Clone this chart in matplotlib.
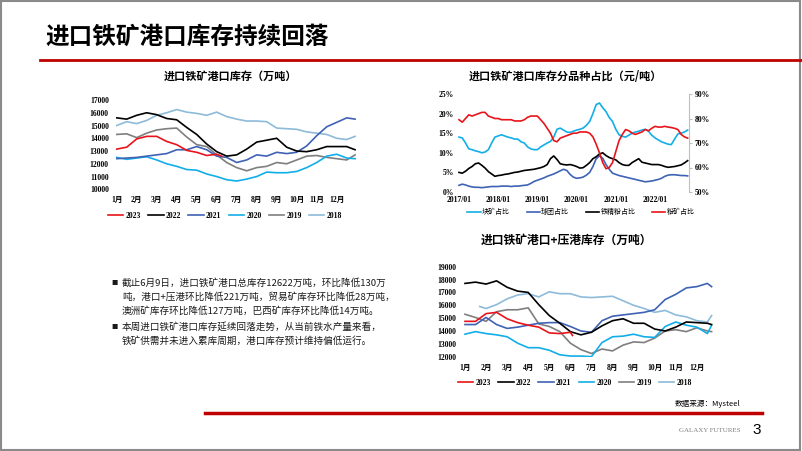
import matplotlib.pyplot as plt
import numpy as np
from matplotlib.lines import Line2D
from matplotlib.patches import Rectangle

# ----- fonts -----
NUM = ['Liberation Serif', 'Noto Sans CJK SC']
CJK = ['Noto Sans CJK SC', 'DejaVu Sans']
plt.rcParams['font.family'] = NUM

# ----- data: port inventory (10k t), half-month points -----
months = ['1月', '2月', '3月', '4月', '5月', '6月', '7月', '8月', '9月', '10月', '11月', '12月']
years = ['2023', '2022', '2021', '2020', '2019', '2018']

x_full = [1, 1.5, 2, 2.5, 3, 3.5, 4, 4.5, 5, 5.5, 6, 6.5, 7, 7.5, 8, 8.5, 9, 9.5,
          10, 10.5, 11, 11.5, 12, 12.5, 12.92]
x_2023 = [1, 1.5, 2, 2.5, 3, 3.5, 4, 4.5, 5, 5.5, 6, 6.25]

port_2023 = [13150, 13300, 13950, 14150, 14150, 13750, 13500, 13050, 12900, 12650, 12750, 12600]
port_2022 = [15600, 15500, 15800, 16000, 15850, 15550, 15450, 14850, 14300, 13550, 12950, 12600,
             12700, 13150, 13700, 13850, 14000, 13300, 13000, 12950, 13100, 13350, 13350, 13350, 13100]
port_2021 = [12400, 12450, 12500, 12600, 12700, 12800, 13100, 13100, 13350, 13100, 12600, 12500,
             12100, 12300, 12700, 12600, 12900, 12800, 12900, 13400, 14200, 14900, 15250, 15600, 15500]
port_2020 = [12500, 12350, 12450, 12550, 12300, 12000, 11800, 11550, 11500, 11200, 11000, 10750,
             10650, 10800, 11000, 11350, 11300, 11300, 11400, 11700, 12100, 12600, 12750, 12450, 12400]
port_2019 = [14300, 14350, 14050, 14400, 14650, 14750, 14800, 14100, 13500, 13350, 12700, 12100,
             11700, 11450, 11700, 11800, 12100, 12000, 12300, 12600, 12650, 12500, 12400, 12300, 12700]
port_2018 = [15000, 15300, 15150, 15400, 15800, 16000, 16250, 16050, 15950, 15800, 16050, 15700,
             15500, 15350, 15350, 15300, 14800, 14750, 14700, 14500, 14400, 14300, 14000, 13900, 14150]

# ----- data: port + waiting-at-port inventory (10k t) -----
x3_full = [1, 1.5, 2, 2.5, 3, 3.5, 4, 4.5, 5, 5.5, 6, 6.5, 7, 7.5, 8, 8.5, 9, 9.5,
           10, 10.5, 11, 11.5, 12, 12.5, 12.7]
x3_2023 = [1, 1.5, 2, 2.5, 3, 3.5, 4, 4.5, 5, 5.5, 6, 6.1]
x3_2018 = [1.7, 2, 2.5, 3, 3.5, 4, 4.5, 5, 5.5, 6, 6.5, 7, 7.5, 8, 8.5, 9, 9.5,
           10, 10.5, 11, 11.5, 12, 12.5, 12.7]

total_2023 = [14750, 14750, 15350, 15450, 14950, 14650, 14450, 14300, 13850, 13800, 13900, 13650]
total_2022 = [17700, 17800, 17650, 17900, 17400, 17100, 17000, 16050, 15200, 14600, 13950, 13700,
              13900, 14400, 14800, 14950, 14600, 14600, 14150, 14000, 14300, 14700, 14650, 14600, 14500]
total_2021 = [14500, 14500, 15050, 14500, 14200, 14300, 14450, 14600, 14650, 14650, 14350, 14000,
              13900, 14800, 15150, 15250, 15350, 15450, 15650, 16450, 16850, 17350, 17450, 17700, 17450]
total_2020 = [13750, 13950, 13800, 13700, 13550, 13050, 12700, 12700, 12500, 12150, 12050, 12050,
              12000, 13100, 13550, 13600, 13750, 13550, 13500, 14350, 14700, 14450, 14300, 13800, 14450]
total_2019 = [15300, 15050, 14750, 15500, 15650, 15650, 15800, 14550, 14350, 13950, 13050, 12550,
              12250, 12600, 12450, 12900, 13150, 13100, 13450, 14000, 14100, 13950, 14250, 14000, 13950]
total_2018 = [15900, 15750, 16050, 16500, 16800, 16900, 16650, 17050, 16900, 16900, 16650, 16600,
              16650, 16700, 16350, 16000, 15750, 15450, 15600, 15250, 15100, 14800, 14700, 15200]

# ----- data: share by ore type (%), monthly 2017/01 - 2022/11 -----
share_dates = 2017 + np.arange(71) / 12
date_ticks = ['2017/01', '2018/01', '2019/01', '2020/01', '2021/01', '2022/01']
kuai = [14, 13.8, 12.5, 11, 10.8, 10.5, 10.3, 10, 10.2, 10.8, 12.5, 14,
        14.3, 14.6, 14.3, 14, 13.8, 13.5, 13.5, 12.8, 12.5, 11.5, 11, 10.8,
        10.8, 11.5, 12, 12.5, 12.9, 14, 16, 16.3, 15.8, 15.3, 15.2, 15.5,
        15.8, 16, 16.3, 17, 18, 20, 22.3, 22.7, 21.5, 20.5, 19, 18,
        16, 14.6, 14.2, 14, 14.5, 15, 15.3, 15.5, 15.8, 16, 15.5, 14.5,
        13.8, 13.3, 12.8, 12.5, 12.2, 12.1, 13.5, 14.8, 15, 15.3, 15.8]
qiutuan = [1.7, 2, 1.8, 1.5, 1.3, 1.2, 1.2, 1.1, 1.2, 1.3, 1.4, 1.4,
           1.4, 1.5, 1.5, 1.5, 1.4, 1.5, 1.5, 1.6, 1.7, 1.8, 2.2, 2.7,
           3, 3.3, 3.6, 4, 4.3, 4.6, 5, 5.4, 5.8, 5.5, 4.5, 3.8,
           3.5, 3.6, 3.8, 4.3, 5, 6.5, 8.5, 9.2, 8.6, 7, 5.8, 4.8,
           4.5, 4.2, 4, 3.8, 3.6, 3.4, 3.2, 3, 2.8, 2.6, 2.7, 2.8,
           3, 3.2, 3.5, 4, 4.3, 4.4, 4.4, 4.3, 4.2, 4.2, 4.1]
jingfen = [5, 4.8, 5.3, 6, 6.5, 7.2, 7.4, 6.8, 6.1, 5.2, 4.6, 4.0,
           4.2, 4.3, 4.5, 4.6, 4.8, 5, 5.1, 5.3, 5.5, 5.6, 5.7, 5.8,
           6, 6.2, 6.5, 7, 8.5, 9.2, 8.3, 7.2, 7, 6.9, 7, 6.8,
           6.5, 6.1, 6.2, 6.8, 7.5, 8.5, 9, 9.7, 10, 9.3, 8.8, 8.5,
           8.2, 7.5, 7, 6.8, 6.8, 7.5, 8, 8.5, 7.6, 7.4, 7.2, 7,
           7, 7, 6.8, 6.5, 6.3, 6.4, 6.5, 6.7, 6.9, 7.4, 8]
fenkuang = [79.5, 78.5, 80, 81.5, 81, 81.5, 82, 82.5, 82.5, 81, 80.5, 80,
            80, 79.5, 79.5, 79.5, 79.5, 79, 79, 79, 79.5, 80.5, 81, 81,
            81, 79.5, 78, 76, 74, 71, 70.5, 72, 72.5, 73, 73.5, 74,
            74, 74.5, 74.5, 74.5, 74, 72.5, 69.5, 66, 62, 59.5, 60, 62,
            66.5, 71, 73.5, 75.5, 75, 74, 73.5, 74, 74.5, 75.5, 75, 76,
            76.8, 76.5, 76.5, 76.8, 76.5, 76.3, 76, 75.5, 73.5, 72.5, 72]

year_colors = ['#E8141B', '#000000', '#3F62B5', '#12AEE8', '#7F7F7F', '#8DBBD9']
share_colors = ['#12AEE8', '#3F62B5', '#000000', '#E8141B']

# ----- figure / slide -----
W, H = 802, 451
fig = plt.figure(figsize=(W / 100, H / 100), dpi=100)


def box(x0, y0, x1, y1):
    # pixel box (top-left origin) -> figure fraction
    return [x0 / W, 1 - y1 / H, (x1 - x0) / W, (y1 - y0) / H]


def clean(ax, pad=5):
    for s in ax.spines.values():
        s.set_visible(False)
    ax.tick_params(length=0, labelsize=5.5, pad=pad)
    for lab in ax.get_xticklabels() + ax.get_yticklabels():
        lab.set_fontweight('bold')


fig.patches.append(Rectangle((0.001, 0.002), 0.997, 0.995, transform=fig.transFigure,
                             fill=False, ec='#8a8a8a', lw=1.5))
fig.text(45 / W, 1 - 37 / H, '进口铁矿港口库存持续回落', fontsize=17, fontweight='bold',
         family=CJK, va='center')
fig.add_artist(Line2D([40 / W, 1], [1 - 60 / H] * 2, color='#C00000', lw=2))
fig.add_artist(Line2D([205 / W, 762 / W], [1 - 413 / H] * 2, color='#C00000', lw=2.5))

year_legend = dict(ncol=6, frameon=False, loc='center', bbox_transform=fig.transFigure,
                   prop={'family': NUM, 'weight': 'bold', 'size': 5.5},
                   handlelength=2.0, handletextpad=0.3, columnspacing=0.95)

# ----- chart 1: port inventory -----
ax1 = fig.add_axes(box(115.7, 100, 355.7, 189.3))
port_x = [x_2023, x_full, x_full, x_full, x_full, x_full]
port_y = [port_2023, port_2022, port_2021, port_2020, port_2019, port_2018]
for i in range(5, -1, -1):
    ax1.plot(port_x[i], port_y[i], color=year_colors[i], lw=1.2, label=years[i])
ax1.set_xlim(0.95, 12.95)
ax1.set_ylim(10000, 17000)
ax1.set_yticks(range(10000, 17001, 1000))
ax1.set_xticks(range(1, 13))
ax1.set_xticklabels(months)
clean(ax1)
h, l = ax1.get_legend_handles_labels()
ax1.legend(h[::-1], l[::-1], bbox_to_anchor=(225 / W, 1 - 216 / H), **year_legend)
fig.text(231 / W, 1 - 76 / H, '进口铁矿港口库存（万吨）', fontsize=8, fontweight='bold',
         family=CJK, ha='center', va='center')

# ----- chart 2: share by ore type -----
ax2 = fig.add_axes(box(458.2, 94, 689.1, 192))
ax2.plot(share_dates, kuai, color=share_colors[0], lw=1.2, label='块矿占比')
ax2.plot(share_dates, qiutuan, color=share_colors[1], lw=1.2, label='球团占比')
ax2.plot(share_dates, jingfen, color=share_colors[2], lw=1.2, label='铁精粉占比')
ax2r = ax2.twinx()
ax2r.plot(share_dates, fenkuang, color=share_colors[3], lw=1.2, label='粉矿占比')
ax2.set_xlim(2016.98, 2022.87)
ax2.set_ylim(0, 25)
ax2.set_yticks(range(0, 26, 5))
ax2.set_yticklabels([f'{v}%' for v in range(0, 26, 5)])
ax2.set_xticks(2017 + np.arange(6))
ax2.set_xticklabels(date_ticks)
ax2r.set_ylim(50, 90)
ax2r.set_yticks(range(50, 91, 10))
ax2r.set_yticklabels([f'{v}%' for v in range(50, 91, 10)])
clean(ax2, pad=3)
clean(ax2r)
ax2r.spines['right'].set_visible(True)
ax2r.spines['right'].set_color('#bfbfbf')
ax2r.spines['right'].set_linewidth(0.8)
ax2r.tick_params(axis='y', length=2, color='#bfbfbf', pad=2)
h2 = ax2.get_legend_handles_labels()
h2r = ax2r.get_legend_handles_labels()
ax2.legend(h2[0] + h2r[0], h2[1] + h2r[1], ncol=4, frameon=False, loc='center',
           bbox_to_anchor=(581 / W, 1 - 212 / H), bbox_transform=fig.transFigure,
           prop={'family': CJK, 'size': 5}, handlelength=1.9, handletextpad=0.2,
           columnspacing=2.4)
fig.text(565 / W, 1 - 77 / H, '进口铁矿港口库存分品种占比（元/吨）', fontsize=8, fontweight='bold',
         family=CJK, ha='center', va='center')

# ----- chart 3: port + waiting inventory -----
ax3 = fig.add_axes(box(463.3, 266.7, 713.7, 356.7))
total_x = [x3_2023, x3_full, x3_full, x3_full, x3_full, x3_2018]
total_y = [total_2023, total_2022, total_2021, total_2020, total_2019, total_2018]
for i in range(5, -1, -1):
    ax3.plot(total_x[i], total_y[i], color=year_colors[i], lw=1.2, label=years[i])
ax3.set_xlim(0.92, 12.8)
ax3.set_ylim(12000, 19000)
ax3.set_yticks(range(12000, 19001, 1000))
ax3.set_xticks(range(1, 13))
ax3.set_xticklabels(months)
clean(ax3)
h3, l3 = ax3.get_legend_handles_labels()
ax3.legend(h3[::-1], l3[::-1], bbox_to_anchor=(575 / W, 1 - 383 / H), **year_legend)
fig.text(566 / W, 1 - 240 / H, '进口铁矿港口+压港库存（万吨）', fontsize=8.5, fontweight='bold',
         family=CJK, ha='center', va='center')

# ----- text block -----
para = ['截止6月9日，进口铁矿港口总库存12622万吨，环比降低130万',
        '吨，港口+压港环比降低221万吨，贸易矿库存环比降低28万吨，',
        '澳洲矿库存环比降低127万吨，巴西矿库存环比降低14万吨。',
        '本周进口铁矿港口库存延续回落走势，从当前铁水产量来看，',
        '铁矿供需并未进入累库周期，港口库存预计维持偏低运行。']
line_y = [283, 297, 311, 327, 341]
for txt, yy in zip(para, line_y):
    fig.text(122 / W, 1 - yy / H, txt, fontsize=6.9, family=CJK, va='center', color='#1a1a1a')
for yy in [283, 327]:
    fig.text(111 / W, 1 - yy / H, '■', fontsize=4.5, family=CJK, va='center', color='#1a1a1a')

# ----- footer -----
fig.text(675 / W, 1 - 404 / H, '数据来源：Mysteel', fontsize=5.5, family=CJK, va='center')
fig.text(710 / W, 1 - 431 / H, 'GALAXY FUTURES', fontsize=5, family='Liberation Serif',
         va='center', ha='center', color='#7f7f7f')
fig.text(757 / W, 1 - 430 / H, '3', fontsize=11, family='Liberation Sans', va='center',
         ha='center')

fig.savefig('out.png', dpi=100)
